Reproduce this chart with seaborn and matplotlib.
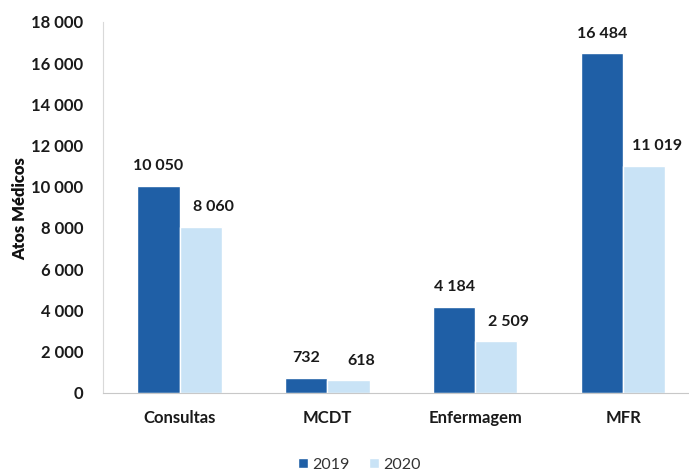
import matplotlib
matplotlib.use("Agg")
from matplotlib import pyplot as plt
import seaborn as sns
import pandas as pd

categories = ["Consultas", "MCDT", "Enfermagem", "MFR"]
years = ["2019", "2020"]
vals_2019 = [10050, 732, 4184, 16484]
vals_2020 = [8060, 618, 2509, 11019]
yticks = list(range(0, 18001, 2000))

sns.set_style("white")
plt.rcParams["font.family"] = ["Lato", "DejaVu Sans"]

df = pd.DataFrame({
    "cat": categories * 2,
    "ano": [years[0]] * 4 + [years[1]] * 4,
    "val": vals_2019 + vals_2020,
})

def fmt(v):
    return "{:,}".format(int(round(v))).replace(",", " ")

fig = plt.figure(figsize=(6.89, 4.74), dpi=100)
ax = fig.add_axes([0.149, 0.171, 0.851, 0.783])
sns.barplot(data=df, x="cat", y="val", hue="ano", order=categories, hue_order=years,
            palette=["#1f5fa6", "#c9e3f6"], width=0.57, saturation=1, ax=ax, legend=True)

# rótulos: os de 2020 ficam um pouco deslocados para a direita
for i, cont in enumerate(ax.containers):
    dx = 0 if i == 0 else 9
    for b in cont:
        ax.annotate(fmt(b.get_height()), (b.get_x() + b.get_width() / 2, b.get_height()),
                    xytext=(dx, 9), textcoords="offset points", ha="center", va="bottom",
                    fontsize=11.5, fontweight="bold", color="#1a1a1a")

ax.set_ylim(0, 18000)
ax.set_xlim(-0.52, 3.446)
ax.set_yticks(yticks)
ax.set_yticklabels([fmt(t) for t in yticks], fontsize=12, fontweight="bold", color="#1a1a1a")
ax.set_xticks(range(len(categories)))
ax.set_xticklabels(categories, fontsize=12, fontweight="bold", color="#1a1a1a")
ax.tick_params(axis="x", length=0, pad=12)
ax.tick_params(axis="y", length=0, pad=14)
ax.set_xlabel("")
ax.set_ylabel("")
fig.text(0.03, 0.56, "Atos Médicos", rotation=90, ha="center", va="center",
         fontsize=12, fontweight="heavy", color="#111111")

for s in ["top", "right"]:
    ax.spines[s].set_visible(False)
ax.spines["left"].set_color("#d9d9d9")
ax.spines["bottom"].set_color("#c8c8c8")
ax.spines["left"].set_linewidth(0.8)
ax.spines["bottom"].set_linewidth(0.8)

handles, labels = ax.get_legend_handles_labels()
ax.get_legend().remove()
leg = fig.legend(handles, labels, loc="center", bbox_to_anchor=(0.522, 0.02), ncol=2,
                 frameon=False, fontsize=11.5, handlelength=0.6, handleheight=0.6,
                 columnspacing=1.2, handletextpad=0.3, borderpad=0)
for t in leg.get_texts():
    t.set_color("#333333")

fig.savefig("out.png", dpi=100)
